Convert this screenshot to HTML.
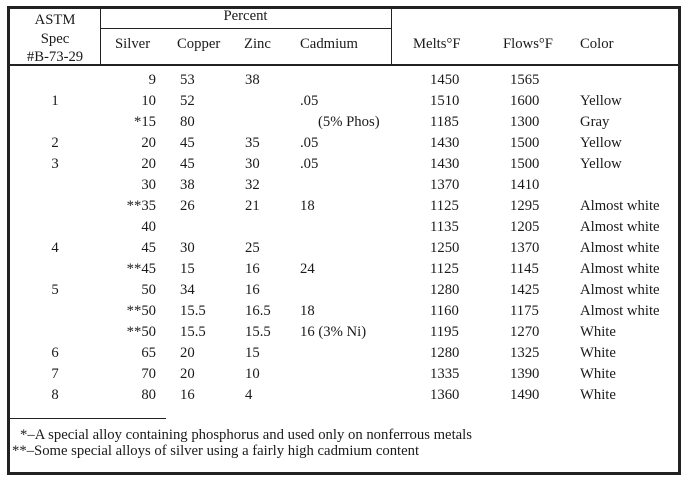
<!DOCTYPE html>
<html><head><style>
body{margin:0;background:#fff;}
#w{position:relative;width:689px;height:484px;overflow:hidden;font-family:"Liberation Serif",serif;font-size:14.7px;color:#1a1a1a;}
.l{position:absolute;background:#222;}
.t{position:absolute;white-space:nowrap;line-height:21px;}
.r{text-align:right;}
.c{text-align:center;}
</style></head><body><div id="w">
<div class="l" style="left:7px;top:6px;width:674px;height:3px"></div>
<div class="l" style="left:7px;top:472px;width:674px;height:3px"></div>
<div class="l" style="left:7px;top:6px;width:3px;height:469px"></div>
<div class="l" style="left:678px;top:6px;width:3px;height:469px"></div>
<div class="l" style="left:9px;top:64px;width:671px;height:1.5px"></div>
<div class="l" style="left:100px;top:28px;width:292px;height:1px"></div>
<div class="l" style="left:100px;top:8px;width:1px;height:57px"></div>
<div class="l" style="left:391px;top:8px;width:1px;height:57px"></div>
<div class="l" style="left:9px;top:418px;width:157px;height:1px"></div>

<div class="t c" style="left:10px;width:90px;top:10px">ASTM</div>
<div class="t c" style="left:10px;width:90px;top:29px">Spec</div>
<div class="t c" style="left:10px;width:90px;top:47px">#B-73-29</div>
<div class="t c" style="left:100px;width:291px;top:6px">Percent</div>
<div class="t" style="left:115px;top:34px">Silver</div>
<div class="t" style="left:177px;top:34px">Copper</div>
<div class="t" style="left:244px;top:34px">Zinc</div>
<div class="t" style="left:300px;top:34px">Cadmium</div>
<div class="t" style="left:413px;top:34px">Melts°F</div>
<div class="t" style="left:503px;top:34px">Flows°F</div>
<div class="t" style="left:580px;top:34px">Color</div>

<div id="rows"></div>
<div class="t" style="left:20px;top:425px">*–A special alloy containing phosphorus and used only on nonferrous metals</div>
<div class="t" style="left:12px;top:441px">**–Some special alloys of silver using a fairly high cadmium content</div>
</div>
<script>
var d=[["","9","53","38","","1450","1565",""],["1","10","52","",".05","1510","1600","Yellow"],["","*15","80","","(5% Phos)","1185","1300","Gray"],["2","20","45","35",".05","1430","1500","Yellow"],["3","20","45","30",".05","1430","1500","Yellow"],["","30","38","32","","1370","1410",""],["","**35","26","21","18","1125","1295","Almost white"],["","40","","","","1135","1205","Almost white"],["4","45","30","25","","1250","1370","Almost white"],["","**45","15","16","24","1125","1145","Almost white"],["5","50","34","16","","1280","1425","Almost white"],["","**50","15.5","16.5","18","1160","1175","Almost white"],["","**50","15.5","15.5","16 (3% Ni)","1195","1270","White"],["6","65","20","15","","1280","1325","White"],["7","70","20","10","","1335","1390","White"],["8","80","16","4","","1360","1490","White"]];
var h="";
d.forEach(function(r,i){var y=70+21*i;
h+='<div class="t c" style="left:10px;width:90px;top:'+y+'px">'+r[0]+'</div>';
h+='<div class="t r" style="left:100px;width:56px;top:'+y+'px">'+r[1]+'</div>';
h+='<div class="t" style="left:180px;top:'+y+'px">'+r[2]+'</div>';
h+='<div class="t" style="left:245px;top:'+y+'px">'+r[3]+'</div>';
var cx=r[4].charAt(0)=="("?318:300;
h+='<div class="t" style="left:'+cx+'px;top:'+y+'px">'+r[4]+'</div>';
h+='<div class="t" style="left:430px;top:'+y+'px">'+r[5]+'</div>';
h+='<div class="t" style="left:510px;top:'+y+'px">'+r[6]+'</div>';
h+='<div class="t" style="left:580px;top:'+y+'px">'+r[7]+'</div>';});
document.getElementById("rows").innerHTML=h;
</script>
</body></html>
